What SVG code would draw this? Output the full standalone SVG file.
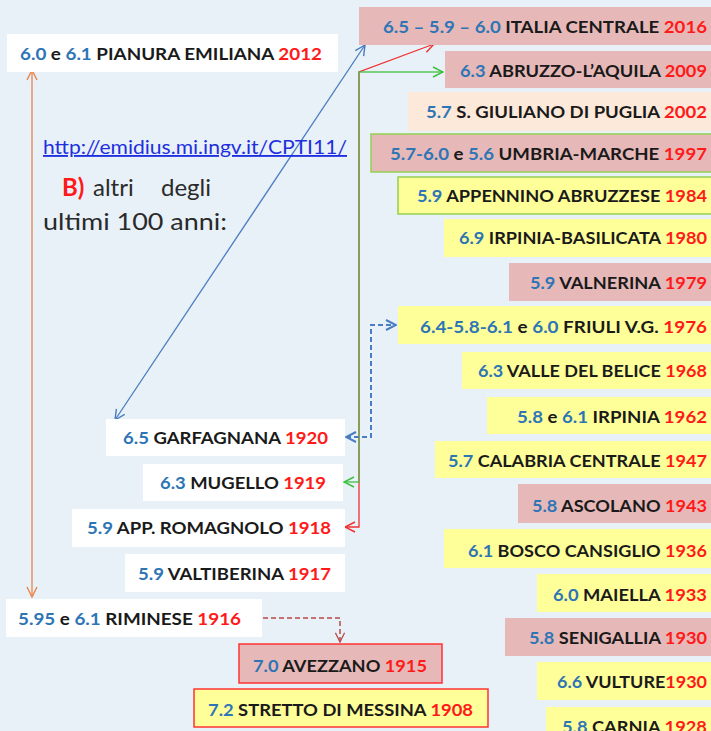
<svg xmlns="http://www.w3.org/2000/svg" width="711" height="731" viewBox="0 0 711 731">
<style>
.t{font-family:Lato,"Liberation Sans",Arial,sans-serif;font-weight:bold;font-size:17px;fill:#1a1a1a}
.m{fill:#2E75B6}
.y{fill:#FF1A1A}
.w{fill:#ffffff}
.p{fill:#E6B9B8}
.yl{fill:#FFFF99}
.pc{fill:#FDE9D9}
.gb{stroke:#92D050;stroke-width:1.5}
.rb{stroke:#FF3333;stroke-width:1.5}
.c{fill:none;stroke-width:1.3}
.n{font-family:Lato,"Liberation Sans",Arial,sans-serif;fill:#2a2a2a}
</style>
<defs>
<marker id="aO" viewBox="0 0 12 12" refX="11" refY="6" markerWidth="12" markerHeight="12" markerUnits="userSpaceOnUse" orient="auto-start-reverse"><path d="M1,1 L11,6 L1,11" fill="none" stroke="#E9844A" stroke-width="1.4"/></marker>
<marker id="aB" viewBox="0 0 12 12" refX="11" refY="6" markerWidth="12" markerHeight="12" markerUnits="userSpaceOnUse" orient="auto-start-reverse"><path d="M1,1 L11,6 L1,11" fill="none" stroke="#4A7CC0" stroke-width="1.4"/></marker>
<marker id="aR" viewBox="0 0 12 12" refX="11" refY="6" markerWidth="12" markerHeight="12" markerUnits="userSpaceOnUse" orient="auto-start-reverse"><path d="M1,1 L11,6 L1,11" fill="none" stroke="#F03030" stroke-width="1.4"/></marker>
<marker id="aG" viewBox="0 0 12 12" refX="11" refY="6" markerWidth="12" markerHeight="12" markerUnits="userSpaceOnUse" orient="auto-start-reverse"><path d="M1,1 L11,6 L1,11" fill="none" stroke="#3CBF3C" stroke-width="1.4"/></marker>
<marker id="aD" viewBox="0 0 12 12" refX="11" refY="6" markerWidth="12" markerHeight="12" markerUnits="userSpaceOnUse" orient="auto-start-reverse"><path d="M1,1 L11,6 L1,11" fill="none" stroke="#4A7CC0" stroke-width="2"/></marker>
<marker id="aK" viewBox="0 0 12 12" refX="11" refY="6" markerWidth="11" markerHeight="11" markerUnits="userSpaceOnUse" orient="auto-start-reverse"><path d="M1,1 L11,6 L1,11" fill="none" stroke="#B84A4A" stroke-width="1.4"/></marker>
</defs>
<rect width="711" height="731" fill="#E8F1F8"/>

<g id="connectors">
<path class="c" d="M32,70 V597" stroke="#E9844A" marker-start="url(#aO)" marker-end="url(#aO)"/>
<path class="c" d="M115,420 L365,45" stroke="#4A7CC0" marker-start="url(#aB)" marker-end="url(#aB)"/>
<path class="c" d="M345,527 H359 V72 L434,44" stroke="#F03030" marker-start="url(#aR)" marker-end="url(#aR)"/>
<path class="c" d="M344,482 H359 V72 H443" stroke="#3CBF3C" stroke-opacity="0.85" marker-start="url(#aG)" marker-end="url(#aG)"/>
<path d="M346,437 H371 V325 H396" fill="none" stroke="#4A7CC0" stroke-width="2" stroke-dasharray="5,3" marker-start="url(#aD)" marker-end="url(#aD)"/>
<path d="M263,618 H340 V642" fill="none" stroke="#B84A4A" stroke-width="1.5" stroke-dasharray="5,3" marker-end="url(#aK)"/>
</g>

<g id="n-pianura"><rect class="w" x="7" y="34" width="331" height="38"/><text class="t" x="20" y="60" textLength="302" lengthAdjust="spacingAndGlyphs"><tspan class="m">6.0</tspan> e <tspan class="m">6.1</tspan> PIANURA EMILIANA <tspan class="y">2012</tspan></text></g>

<g id="n-intro">
<text class="n" x="43" y="154" font-size="18.5" style="fill:#1F2FE0" text-decoration="underline" textLength="304" lengthAdjust="spacingAndGlyphs">http://emidius.mi.ingv.it/CPTI11/</text>
<text class="n" y="196" font-size="24"><tspan x="62" font-weight="bold" style="fill:#FF1A1A">B)</tspan><tspan x="93">altri</tspan><tspan x="161">degli</tspan></text>
<text class="n" x="43" y="230" font-size="24" textLength="184" lengthAdjust="spacingAndGlyphs">ultimi 100 anni:</text>
</g>

<g id="n-2016"><rect class="p" x="359" y="7" width="360" height="38"/><text class="t" x="383" y="33" textLength="324" lengthAdjust="spacingAndGlyphs"><tspan class="m">6.5 – 5.9 – 6.0</tspan> ITALIA CENTRALE <tspan class="y">2016</tspan></text></g>
<g id="n-2009"><rect class="p" x="445" y="51" width="275" height="37"/><text class="t" x="460" y="77" textLength="247" lengthAdjust="spacingAndGlyphs"><tspan class="m">6.3</tspan> ABRUZZO-L’AQUILA <tspan class="y">2009</tspan></text></g>
<g id="n-2002"><rect class="pc" x="408" y="92" width="312" height="39"/><text class="t" x="426" y="118" textLength="281" lengthAdjust="spacingAndGlyphs"><tspan class="m">5.7</tspan> S. GIULIANO DI PUGLIA <tspan class="y">2002</tspan></text></g>
<g id="n-1997"><rect class="p gb" x="371" y="134" width="350" height="38"/><text class="t" x="390" y="160" textLength="317" lengthAdjust="spacingAndGlyphs"><tspan class="m">5.7-6.0</tspan> e <tspan class="m">5.6</tspan> UMBRIA-MARCHE <tspan class="y">1997</tspan></text></g>
<g id="n-1984"><rect class="yl gb" x="398" y="177" width="323" height="37"/><text class="t" x="417" y="202" textLength="290" lengthAdjust="spacingAndGlyphs"><tspan class="m">5.9</tspan> APPENNINO ABRUZZESE <tspan class="y">1984</tspan></text></g>
<g id="n-1980"><rect class="yl" x="444" y="219" width="276" height="38"/><text class="t" x="459" y="244" textLength="248" lengthAdjust="spacingAndGlyphs"><tspan class="m">6.9</tspan> IRPINIA-BASILICATA <tspan class="y">1980</tspan></text></g>
<g id="n-1979"><rect class="p" x="509" y="263" width="211" height="38"/><text class="t" x="530" y="289" textLength="177" lengthAdjust="spacingAndGlyphs"><tspan class="m">5.9</tspan> VALNERINA <tspan class="y">1979</tspan></text></g>
<g id="n-1976"><rect class="yl" x="398" y="306" width="322" height="38"/><text class="t" x="420" y="333" textLength="287" lengthAdjust="spacingAndGlyphs"><tspan class="m">6.4-5.8-6.1</tspan> e <tspan class="m">6.0</tspan> FRIULI V.G. <tspan class="y">1976</tspan></text></g>
<g id="n-1968"><rect class="yl" x="462" y="352" width="258" height="37"/><text class="t" x="478" y="377" textLength="229" lengthAdjust="spacingAndGlyphs"><tspan class="m">6.3</tspan> VALLE DEL BELICE <tspan class="y">1968</tspan></text></g>
<g id="n-1962"><rect class="yl" x="487" y="397" width="233" height="37"/><text class="t" x="517" y="423" textLength="190" lengthAdjust="spacingAndGlyphs"><tspan class="m">5.8</tspan> e <tspan class="m">6.1</tspan> IRPINIA <tspan class="y">1962</tspan></text></g>
<g id="n-1947"><rect class="yl" x="435" y="441" width="285" height="37"/><text class="t" x="448" y="467" textLength="259" lengthAdjust="spacingAndGlyphs"><tspan class="m">5.7</tspan> CALABRIA CENTRALE <tspan class="y">1947</tspan></text></g>
<g id="n-1943"><rect class="p" x="518" y="484" width="202" height="39"/><text class="t" x="532" y="512" textLength="175" lengthAdjust="spacingAndGlyphs"><tspan class="m">5.8</tspan> ASCOLANO <tspan class="y">1943</tspan></text></g>
<g id="n-1936"><rect class="yl" x="444" y="529" width="276" height="39"/><text class="t" x="468" y="557" textLength="239" lengthAdjust="spacingAndGlyphs"><tspan class="m">6.1</tspan> BOSCO CANSIGLIO <tspan class="y">1936</tspan></text></g>
<g id="n-1933"><rect class="yl" x="537" y="574" width="183" height="38"/><text class="t" x="553" y="601" textLength="154" lengthAdjust="spacingAndGlyphs"><tspan class="m">6.0</tspan> MAIELLA <tspan class="y">1933</tspan></text></g>
<g id="n-1930s"><rect class="p" x="505" y="618" width="215" height="38"/><text class="t" x="529" y="644" textLength="178" lengthAdjust="spacingAndGlyphs"><tspan class="m">5.8</tspan> SENIGALLIA <tspan class="y">1930</tspan></text></g>
<g id="n-1930v"><rect class="yl" x="537" y="662" width="183" height="38"/><text class="t" x="557" y="688" textLength="150" lengthAdjust="spacingAndGlyphs"><tspan class="m">6.6</tspan> VULTURE<tspan class="y">1930</tspan></text></g>
<g id="n-1928"><rect class="yl" x="546" y="707" width="174" height="38"/><text class="t" x="562" y="733" textLength="145" lengthAdjust="spacingAndGlyphs"><tspan class="m">5.8</tspan> CARNIA <tspan class="y">1928</tspan></text></g>

<g id="n-1920"><rect class="w" x="106" y="419" width="239" height="37"/><text class="t" x="123" y="444" textLength="205" lengthAdjust="spacingAndGlyphs"><tspan class="m">6.5</tspan> GARFAGNANA <tspan class="y">1920</tspan></text></g>
<g id="n-1919"><rect class="w" x="143" y="464" width="200" height="37"/><text class="t" x="160" y="489" textLength="166" lengthAdjust="spacingAndGlyphs"><tspan class="m">6.3</tspan> MUGELLO <tspan class="y">1919</tspan></text></g>
<g id="n-1918"><rect class="w" x="72" y="509" width="273" height="38"/><text class="t" x="87" y="534" textLength="244" lengthAdjust="spacingAndGlyphs"><tspan class="m">5.9</tspan> APP. ROMAGNOLO <tspan class="y">1918</tspan></text></g>
<g id="n-1917"><rect class="w" x="125" y="554" width="220" height="38"/><text class="t" x="138" y="580" textLength="193" lengthAdjust="spacingAndGlyphs"><tspan class="m">5.9</tspan> VALTIBERINA <tspan class="y">1917</tspan></text></g>
<g id="n-1916"><rect class="w" x="6" y="599" width="256" height="38"/><text class="t" x="18" y="625" textLength="223" lengthAdjust="spacingAndGlyphs"><tspan class="m">5.95</tspan> e <tspan class="m">6.1</tspan> RIMINESE <tspan class="y">1916</tspan></text></g>
<g id="n-1915"><rect class="p rb" x="239" y="644" width="203" height="39"/><text class="t" x="253" y="672" textLength="174" lengthAdjust="spacingAndGlyphs"><tspan class="m">7.0</tspan> AVEZZANO <tspan class="y">1915</tspan></text></g>
<g id="n-1908"><rect class="yl rb" x="194" y="689" width="294" height="38"/><text class="t" x="208" y="716" textLength="265" lengthAdjust="spacingAndGlyphs"><tspan class="m">7.2</tspan> STRETTO DI MESSINA <tspan class="y">1908</tspan></text></g>
</svg>
